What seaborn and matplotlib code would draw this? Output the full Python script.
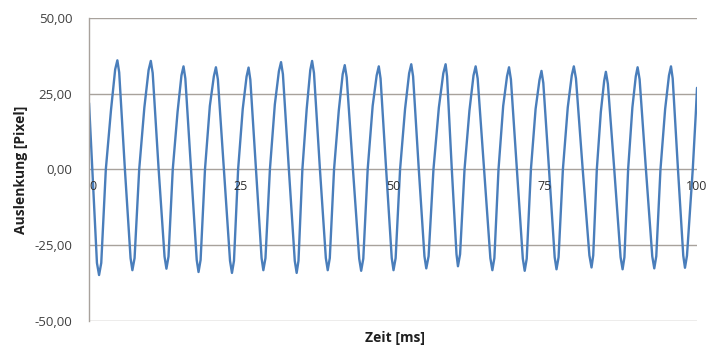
import pandas as pd
import numpy as np
import matplotlib.pyplot as plt
import seaborn as sns

# vertices: time in ms, deflection in pixel
zeit = [0.0, 1.30,
        1.65, 2.01, 2.76, 3.61, 4.30, 4.66, 4.96, 5.90, 6.83,
        7.13, 7.49, 8.25, 9.10, 9.80, 10.16, 10.47, 11.45, 12.42,
        12.73, 13.07, 13.77, 14.56, 15.20, 15.54, 15.84, 16.78, 17.71,
        18.01, 18.35, 19.07, 19.87, 20.53, 20.87, 21.19, 22.19, 23.19,
        23.51, 23.84, 24.52, 25.28, 25.91, 26.24, 26.53, 27.46, 28.38,
        28.67, 29.02, 29.75, 30.56, 31.23, 31.58, 31.89, 32.87, 33.84,
        34.15, 34.45, 35.09, 35.80, 36.39, 36.69, 37.00, 37.98, 38.95,
        39.26, 39.60, 40.30, 41.08, 41.72, 42.06, 42.38, 43.41, 44.44,
        44.76, 45.11, 45.83, 46.65, 47.31, 47.66, 47.95, 48.87, 49.79,
        50.08, 50.43, 51.16, 51.98, 52.65, 53.00, 53.30, 54.24, 55.17,
        55.47, 55.85, 56.65, 57.54, 58.27, 58.65, 58.89, 59.67, 60.44,
        60.68, 61.03, 61.76, 62.57, 63.24, 63.59, 63.92, 64.97, 66.01,
        66.34, 66.67, 67.35, 68.12, 68.75, 69.08, 69.39, 70.37, 71.35,
        71.66, 71.99, 72.68, 73.45, 74.09, 74.42, 74.72, 75.66, 76.59,
        76.89, 77.23, 77.94, 78.74, 79.40, 79.74, 80.09, 81.20, 82.30,
        82.65, 82.93, 83.52, 84.18, 84.73, 85.01, 85.34, 86.39, 87.43,
        87.76, 88.06, 88.67, 89.37, 89.93, 90.23, 90.56, 91.60, 92.64,
        92.97, 93.30, 93.99, 94.76, 95.39, 95.72, 96.00, 96.87, 97.74,
        98.02, 98.35, 99.30, 99.80, 100.0]
auslenkung = [22.0, -30.9,
              -34.9, -30.9, 0.0, 19.6, 33.1, 36.1, 32.1, 0.0, -29.3,
              -33.3, -29.3, 0.0, 20.5, 32.9, 35.9, 31.9, 0.0, -28.8,
              -32.8, -28.8, 0.0, 19.0, 31.1, 34.1, 30.1, 0.0, -29.9,
              -33.9, -29.9, 0.0, 21.0, 30.8, 33.8, 29.8, 0.0, -30.2,
              -34.2, -30.2, 0.0, 20.0, 30.7, 33.7, 29.7, 0.0, -29.3,
              -33.3, -29.3, 0.0, 21.5, 32.5, 35.5, 31.5, 0.0, -30.2,
              -34.2, -30.2, 0.0, 20.0, 32.9, 35.9, 31.9, 0.0, -29.3,
              -33.3, -29.3, 0.0, 19.5, 31.5, 34.5, 30.5, 0.0, -29.5,
              -33.5, -29.5, 0.0, 21.0, 31.1, 34.1, 30.1, 0.0, -29.3,
              -33.3, -29.3, 0.0, 20.0, 31.8, 34.8, 30.8, 0.0, -28.7,
              -32.7, -28.7, 0.0, 20.5, 31.8, 34.8, 30.8, 0.0, -28.0,
              -32.0, -28.0, 0.0, 19.5, 31.1, 34.1, 30.1, 0.0, -29.3,
              -33.3, -29.3, 0.0, 21.0, 30.8, 33.8, 29.8, 0.0, -29.5,
              -33.5, -29.5, 0.0, 20.0, 29.6, 32.6, 28.6, 0.0, -29.0,
              -33.0, -29.0, 0.0, 20.5, 31.1, 34.1, 30.1, 0.0, -28.4,
              -32.4, -28.4, 0.0, 19.0, 29.3, 32.3, 28.3, 0.0, -29.0,
              -33.0, -29.0, 0.0, 20.5, 30.8, 33.8, 29.8, 0.0, -28.7,
              -32.7, -28.7, 0.0, 20.0, 31.1, 34.1, 30.1, 0.0, -28.5,
              -32.5, -28.5, 0.0, 18.5, 27.0]
x_ticks = [0, 25, 50, 75, 100]
y_ticks = [-50, -25, 0, 25, 50]
y_labels = ["-50,00", "-25,00", "0,00", "25,00", "50,00"]

df = pd.DataFrame({"Zeit": zeit, "Auslenkung": auslenkung})

sns.set_style("white")
plt.rcParams['font.family'] = ['Open Sans', 'DejaVu Sans']

fig = plt.figure(figsize=(7.1, 3.47), dpi=100)
ax = fig.add_axes([0.1254, 0.0758, 0.8563, 0.8715])

grid_col = "#a8a29c"
for y in y_ticks:
    ax.axhline(y, color=grid_col, lw=1.0, zorder=0)

sns.lineplot(data=df, x="Zeit", y="Auslenkung", ax=ax, color="#4a7ebb",
             lw=1.7, sort=False, estimator=None)

ax.set_xlim(0, 100)
ax.set_ylim(-50, 50)

for side in ["top", "right", "bottom"]:
    ax.spines[side].set_visible(False)
ax.spines["left"].set_color(grid_col)
ax.spines["left"].set_linewidth(1.0)

ax.set_yticks(y_ticks)
ax.set_yticklabels(y_labels)
ax.tick_params(axis="y", length=0, pad=12, labelsize=9.5, labelcolor="#404040")

ax.set_xticks([])
for t in x_ticks:
    ax.text(t, -3.5, str(t), ha="left" if t == 0 else "center",
            va="top", fontsize=9, color="#303030")

ax.set_xlabel("")
ax.set_ylabel("Auslenkung [Pixel]", fontsize=10, fontweight="bold", color="#202020", labelpad=5)
fig.text(0.556, 0.005, "Zeit [ms]", ha="center", va="bottom", fontsize=10,
         fontweight="bold", color="#202020")

fig.savefig("out.png", dpi=100)
